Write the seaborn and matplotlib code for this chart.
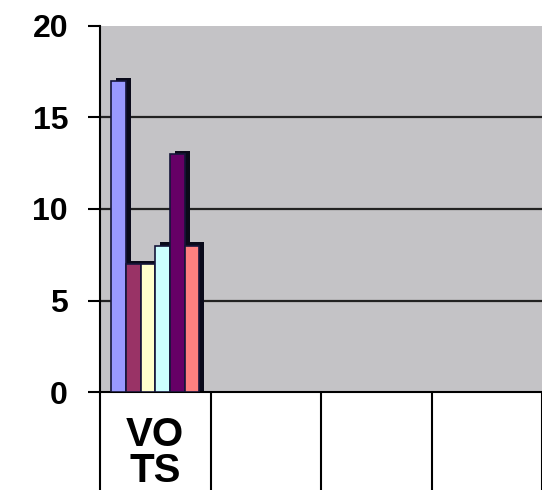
import pandas as pd
import matplotlib
matplotlib.use("Agg")
import matplotlib.pyplot as plt
from matplotlib.patches import Rectangle
import seaborn as sns

# chart data
categories = ["VOTS", "c2", "c3", "c4"]
tick_labels = ["VO\nTS", "", "", ""]
series = ["S1", "S2", "S3", "S4", "S5", "S6"]
values = [17, 7, 7, 8, 13, 8]
colors = ["#9999FF", "#993366", "#FFFFCC", "#CCFFFF", "#660066", "#FF8080"]
y_ticks = [0, 5, 10, 15, 20]


def build_frame():
    return pd.DataFrame({
        "category": [categories[0]] * len(series),
        "series": series,
        "value": values,
    })


def main():
    sns.set_style("white")
    plt.rcParams["font.family"] = ["Liberation Sans", "DejaVu Sans"]

    df = build_frame()
    fig = plt.figure(figsize=(5.42, 4.90), dpi=100)
    ax = fig.add_axes([100 / 542, 98 / 490, 442 / 542, 366 / 490])
    ax.set_facecolor("#c4c3c6")

    sns.barplot(data=df, x="category", y="value", hue="series",
                order=categories, hue_order=series,
                palette=dict(zip(series, colors)), saturation=1,
                errorbar=None, legend=False, ax=ax,
                edgecolor="#15153a", linewidth=1.2, zorder=3)

    # dark 3D side/top faces behind each bar, taken from the bar geometry
    for p in list(ax.patches):
        x, w, h = p.get_x(), p.get_width(), p.get_height()
        ax.add_patch(Rectangle((x + 0.045, 0), w, h + 0.17,
                               facecolor="#0a0a1a", edgecolor="none", zorder=2))

    # horizontal gridlines
    for t in y_ticks[1:-1]:
        ax.axhline(t, color="#222222", lw=1.6, zorder=1)

    ax.set_xlim(-0.5, len(categories) - 0.5)
    ax.set_ylim(0, 20)
    ax.set_yticks(y_ticks)
    ax.set_yticklabels([str(t) for t in y_ticks], fontsize=23, fontweight="bold",
                       color="black")
    ax.tick_params(axis="y", left=True, direction="out", length=9, width=1.5,
                   color="black", pad=14)

    ax.set_xticks(range(len(categories)))
    ax.set_xticklabels(tick_labels, fontsize=29, fontweight="bold", color="black")
    for lbl in ax.get_xticklabels():
        lbl.set_linespacing(0.95)
    ax.tick_params(axis="x", which="major", bottom=True, length=0, pad=17)
    ax.set_xticks([i - 0.5 for i in range(len(categories) + 1)], minor=True)
    ax.tick_params(axis="x", which="minor", bottom=True, direction="out",
                   length=75, width=1.5, color="black")

    ax.set_xlabel("")
    ax.set_ylabel("")
    for side in ["top", "right"]:
        ax.spines[side].set_visible(False)
    for side in ["left", "bottom"]:
        ax.spines[side].set_color("black")
        ax.spines[side].set_linewidth(1.5)

    fig.savefig("out.png", dpi=100, facecolor="white")


if __name__ == "__main__":
    main()
